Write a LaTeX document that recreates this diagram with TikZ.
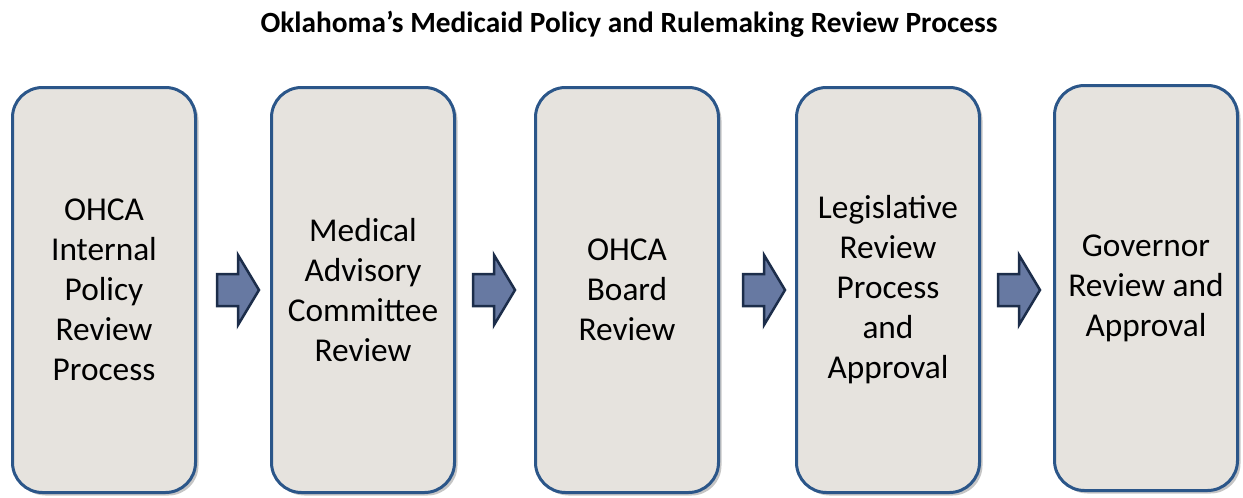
\documentclass[tikz,border=0pt]{standalone}
\usepackage{fontspec}
\setmainfont{Carlito}
\usepackage{tikz}
\usetikzlibrary{positioning,shadows}

\definecolor{boxline}{HTML}{2B5689}
\definecolor{boxfill}{HTML}{E6E3DE}
\definecolor{arrfill}{HTML}{6779A2}
\definecolor{arrline}{HTML}{1C2D4A}
\def\px{0.75pt}

\begin{document}
\begin{tikzpicture}[x=\px,y=-\px,
		stage/.style={draw=boxline,line width=3*\px,fill=boxfill,rounded corners=30*\px,
			minimum width=183*\px,minimum height=405*\px,align=center,inner sep=0pt,
			font=\fontsize{25}{30}\selectfont,
			drop shadow={shadow xshift=3*\px,shadow yshift=-3*\px,fill=black!45,opacity=0.5}},
		flowarrow/.pic={
			\draw[fill=arrfill,draw=arrline,line width=2.5*\px,line join=miter]
				(-21,-16) -- (0,-16) -- (0,-35) -- (21,0) -- (0,35) -- (0,16) -- (-21,16) -- cycle;
		}]
		\useasboundingbox (0,0) rectangle (1243,497);
		
		\node[font=\fontsize{22}{26}\selectfont\bfseries] (title) at (629,24)
			{Oklahoma’s Medicaid Policy and Rulemaking Review Process};
		
		\node[stage] (s1) at (104,290) {OHCA\\Internal\\Policy\\Review\\Process};
		\node[stage] (s2) at (363,290) {Medical\\Advisory\\Committee\\Review};
		\node[stage] (s3) at (627,290) {OHCA\\Board\\Review};
		\node[stage] (s4) at (888,290) {Legislative\\Review\\Process\\and\\Approval};
		\node[stage] (s5) at (1146,288) {Governor\\Review and\\Approval};
		
		\pic (a1) at (238,290) {flowarrow};
		\pic (a2) at (494,290) {flowarrow};
		\pic (a3) at (764,290) {flowarrow};
		\pic (a4) at (1019,290) {flowarrow};
\end{tikzpicture}
\end{document}
